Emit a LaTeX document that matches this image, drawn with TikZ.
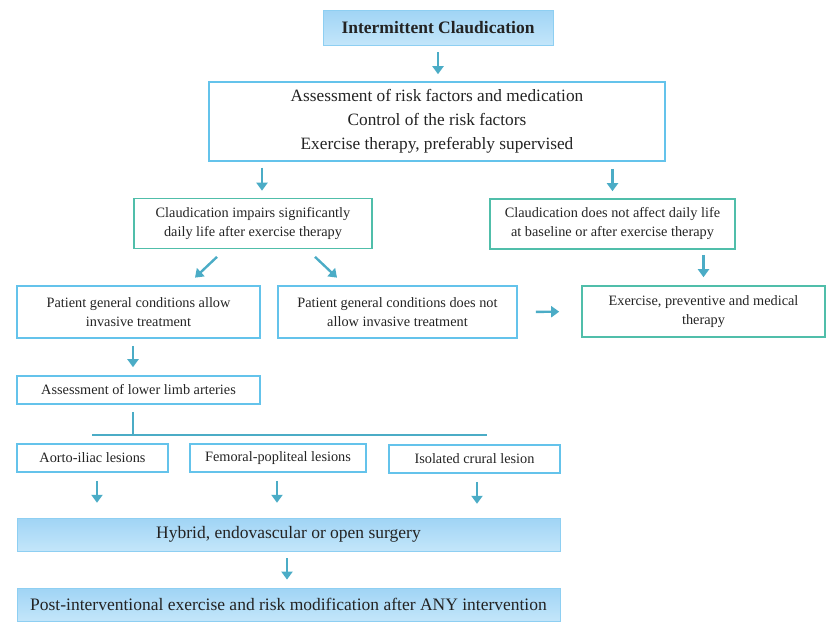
\documentclass[tikz,border=0pt]{standalone}
\usepackage{fontspec}
\setmainfont{Liberation Serif}
\usetikzlibrary{arrows.meta}

\definecolor{boxBlue}{RGB}{100,195,235}
\definecolor{boxTeal}{RGB}{80,190,170}
\definecolor{arrowBlue}{RGB}{75,172,198}
\definecolor{fillTop}{RGB}{160,212,245}
\definecolor{fillBottom}{RGB}{195,230,250}
\definecolor{textGray}{RGB}{35,35,35}

\tikzset{
  flow box/.style={draw=boxBlue, line width=1.6pt, inner sep=0pt, align=center,
    text=textGray, font=\fontsize{14.3}{19}\selectfont},
  flow box teal/.style={flow box, draw=boxTeal},
  flow box filled/.style={flow box, draw=fillTop!70!boxBlue, line width=0.8pt,
    top color=fillTop, bottom color=fillBottom, font=\fontsize{17.5}{20}\selectfont},
  flow arrow/.style={draw=arrowBlue, line width=2.4pt, -{Triangle[length=8pt,width=11pt]}},
  flow line/.style={draw=arrowBlue, line width=1.5pt},
}

\begin{document}
\begin{tikzpicture}[x=1pt,y=-1pt]
\useasboundingbox (0,0) rectangle (832,627);

\node[flow box filled, minimum width=230pt, minimum height=35pt,
  font=\bfseries\fontsize{17.5}{20}\selectfont] (IntermittentClaudication) at (438,27.5)
  {Intermittent Claudication};

\node[flow box, minimum width=456pt, minimum height=79pt, font=\fontsize{17.3}{24}\selectfont]
  (RiskFactors) at (437,121.5)
  {Assessment of risk factors and medication\\
   Control of the risk factors\\
   Exercise therapy, preferably supervised};

% first decision
\node[flow box teal, minimum width=238pt, minimum height=50pt] (ImpairsLife) at (253,223.5)
  {Claudication impairs significantly\\ daily life after exercise therapy};
\node[flow box teal, minimum width=245pt, minimum height=50pt] (NoEffect) at (612.5,224)
  {Claudication does not affect daily life\\ at baseline or after exercise therapy};

% patient conditions
\node[flow box, minimum width=243pt, minimum height=52pt] (AllowInvasive) at (138.5,312)
  {Patient general conditions allow\\ invasive treatment};
\node[flow box, minimum width=239pt, minimum height=52pt] (NoInvasive) at (397.5,312)
  {Patient general conditions does not\\ allow invasive treatment};
\node[flow box teal, minimum width=243pt, minimum height=51pt] (ExerciseTherapy) at (703.5,311.5)
  {Exercise, preventive and medical\\ therapy};

\node[flow box, minimum width=243pt, minimum height=28pt] (LimbArteries) at (138.5,390)
  {Assessment of lower limb arteries};

% lesions
\node[flow box, minimum width=151pt, minimum height=28pt] (AortoIliac) at (92.5,458)
  {Aorto-iliac lesions};
\node[flow box, minimum width=176pt, minimum height=28pt] (FemoralPopliteal) at (278,458)
  {Femoral-popliteal lesions};
\node[flow box, minimum width=171pt, minimum height=28pt] (CruralLesion) at (474.5,459)
  {Isolated crural lesion};

\node[flow box filled, minimum width=543pt, minimum height=33pt] (Surgery) at (288.5,534.5)
  {Hybrid, endovascular or open surgery};
\node[flow box filled, minimum width=543pt, minimum height=33pt] (PostIntervention) at (288.5,604.5)
  {Post-interventional exercise and risk modification after ANY intervention};

\coordinate (Split) at (133,435);
\coordinate (SplitLeft) at (92,435);
\coordinate (SplitRight) at (487,435);

\draw[flow arrow, shorten <=7pt, shorten >=7pt] (IntermittentClaudication.south) -- (RiskFactors.north -| IntermittentClaudication.south);
\draw[flow arrow, shorten <=7pt, shorten >=7pt] ([xshift=9pt]ImpairsLife.north) ++(0,-37) -- ([xshift=9pt]ImpairsLife.north);
\draw[flow arrow, shorten <=7pt, shorten >=7pt] (RiskFactors.south -| NoEffect.north) -- (NoEffect.north);
\draw[flow arrow, shorten <=11pt, shorten >=11pt] ([xshift=-28pt]ImpairsLife.south) -- ([xshift=48.5pt]AllowInvasive.north);
\draw[flow arrow, shorten <=11pt, shorten >=11pt] ([xshift=54pt]ImpairsLife.south) -- ([xshift=-52.5pt]NoInvasive.north);
\draw[flow arrow, shorten <=5pt, shorten >=8pt] (NoEffect.south -| ExerciseTherapy.north) -- (ExerciseTherapy.north);
\draw[flow arrow, shorten <=18pt, shorten >=22pt] (NoInvasive.east) -- (ExerciseTherapy.west);
\draw[flow arrow, shorten <=7pt, shorten >=8pt] ([xshift=-5.5pt]AllowInvasive.south) -- ([xshift=-5.5pt]LimbArteries.north);

\draw[flow line, shorten <=7pt] (LimbArteries.south -| Split) -- (Split);
\draw[flow line] (SplitLeft) -- (SplitRight);

\foreach \lesion/\dx in {AortoIliac/4.5, FemoralPopliteal/-1, CruralLesion/2.5} {
  \draw[flow arrow, shorten <=8pt, shorten >=16pt] ([xshift=\dx pt]\lesion.south) -- ++(0,46);
}
\draw[flow arrow, shorten <=7pt, shorten >=8pt] ([xshift=-1.5pt]Surgery.south) -- ([xshift=-1.5pt]PostIntervention.north);
\end{tikzpicture}
\end{document}
